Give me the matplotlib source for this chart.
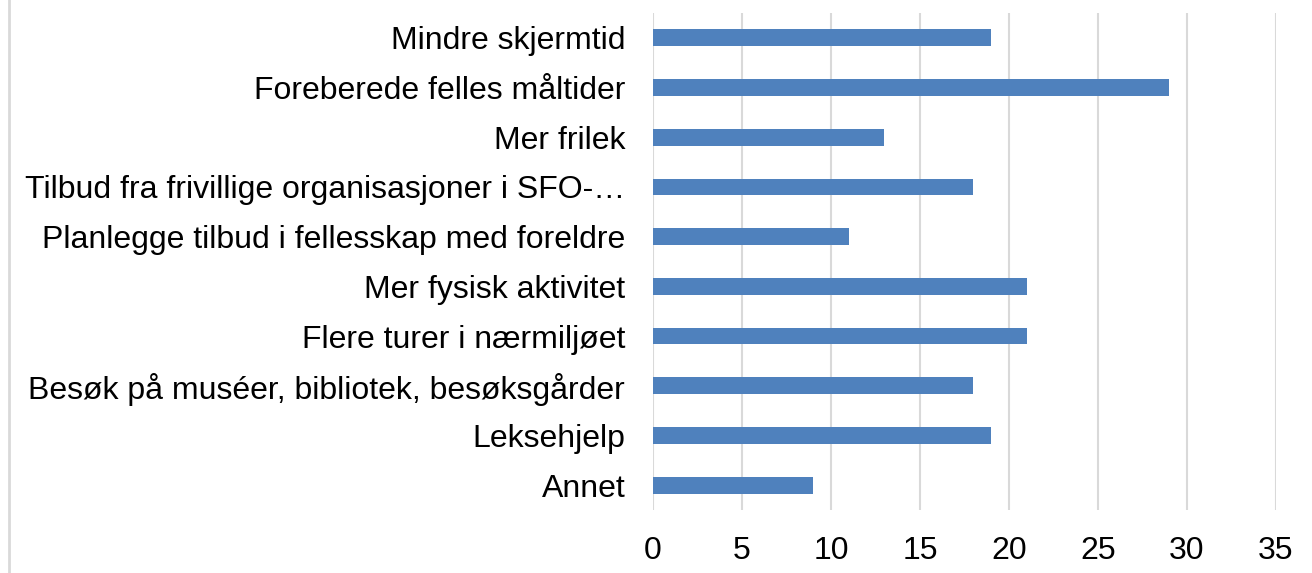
import matplotlib.pyplot as plt
from matplotlib.lines import Line2D

plt.rcParams['font.family'] = ['Liberation Sans', 'DejaVu Sans']

categories = ["Mindre skjermtid", "Foreberede felles måltider", "Mer frilek",
              "Tilbud fra frivillige organisasjoner i SFO-…",
              "Planlegge tilbud i fellesskap med foreldre",
              "Mer fysisk aktivitet", "Flere turer i nærmiljøet",
              "Besøk på muséer, bibliotek, besøksgårder", "Leksehjelp", "Annet"]
values = [19, 29, 13, 18, 11, 21, 21, 18, 19, 9]
xticks = [0, 5, 10, 15, 20, 25, 30, 35]

fig = plt.figure(figsize=(13.12, 5.73), dpi=100)
ax = fig.add_axes([653 / 1312, 1 - 510 / 573, (1276 - 653) / 1312, (510 - 13) / 573])

pos = list(range(len(categories)))
ax.barh(pos, values, height=0.34, color='#4F81BD', zorder=3)
ax.set_ylim(len(categories) - 0.5, -0.5)
ax.set_xlim(0, 35)
ax.set_xticks(xticks)
ax.set_yticks(pos)
ax.set_yticklabels(categories, fontsize=23)
ax.tick_params(axis='x', labelsize=23, length=0, pad=19)
ax.tick_params(axis='y', length=0, pad=20)
ax.xaxis.grid(True, color='#D9D9D9', linewidth=1.5, zorder=0)
for s in ax.spines.values():
    s.set_visible(False)

# light frame line on the left of the chart area
fig.add_artist(Line2D([9 / 1312, 9 / 1312], [0, 1], color='#D9D9D9', linewidth=2,
                      transform=fig.transFigure))

fig.savefig('out.png', dpi=100)
